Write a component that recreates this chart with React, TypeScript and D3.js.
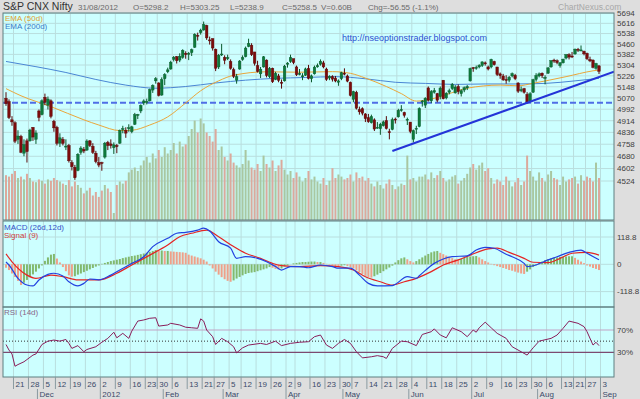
import * as d3 from "d3";

// ---- price data (daily, 16 Nov 2011 .. 31 Aug 2012) ----
const opens = [
  5068, 5045, 4920, 4900, 4790, 4810, 4700, 4780, 4780, 4870, 4790, 4980, 4955, 5075, 5020, 5050, 4910, 4870, 4765, 4790,
  4745, 4750, 4640, 4610, 4590, 4705, 4725, 4720, 4780, 4745, 4700, 4640, 4640, 4675, 4770, 4760, 4735, 4750, 4765, 4860,
  4850, 4860, 4840, 4890, 4950, 4980, 5035, 5045, 5050, 5125, 5190, 5175, 5090, 5205, 5255, 5275, 5345, 5365, 5340, 5360,
  5390, 5385, 5395, 5435, 5525, 5545, 5565, 5600, 5490, 5500, 5420, 5290, 5385, 5360, 5350, 5330, 5270, 5195, 5275, 5345,
  5365, 5440, 5450, 5400, 5300, 5240, 5290, 5340, 5220, 5280, 5200, 5225, 5180, 5190, 5310, 5330, 5350, 5290, 5240, 5220,
  5230, 5280, 5205, 5240, 5290, 5310, 5320, 5275, 5210, 5220, 5210, 5180, 5205, 5245, 5225, 5180, 5060, 5110, 4990, 4995,
  4960, 4935, 4900, 4920, 4865, 4860, 4880, 4915, 4840, 4855, 4925, 4940, 4990, 4970, 4920, 4905, 4790, 4860, 4875, 5045,
  5020, 5140, 5050, 5110, 5100, 5080, 5195, 5070, 5110, 5135, 5105, 5150, 5100, 5125, 5140, 5190, 5285, 5285, 5290, 5300,
  5320, 5290, 5290, 5330, 5290, 5240, 5225, 5200, 5195, 5225, 5230, 5175, 5125, 5135, 5095, 5050, 5110, 5200, 5225, 5245,
  5215, 5245, 5290, 5340, 5335, 5300, 5320, 5355, 5380, 5370, 5385, 5420, 5410, 5405, 5390, 5345, 5340, 5280, 5298,
];
const highs = [
  5110, 5060, 4945, 4910, 4850, 4820, 4790, 4795, 4860, 4870, 4850, 4990, 5060, 5100, 5080, 5060, 4920, 4880, 4830, 4805,
  4790, 4760, 4655, 4625, 4700, 4745, 4740, 4790, 4785, 4765, 4715, 4675, 4645, 4773, 4780, 4790, 4770, 4760, 4855, 4880,
  4870, 4890, 4880, 4967, 4960, 5025, 5060, 5065, 5135, 5165, 5217, 5180, 5215, 5245, 5285, 5335, 5370, 5370, 5390, 5420,
  5405, 5400, 5425, 5540, 5545, 5575, 5630, 5605, 5515, 5500, 5425, 5385, 5460, 5375, 5380, 5345, 5285, 5240, 5340, 5375,
  5440, 5499, 5465, 5400, 5335, 5290, 5370, 5345, 5290, 5285, 5255, 5240, 5200, 5305, 5325, 5380, 5350, 5300, 5275, 5245,
  5285, 5305, 5235, 5300, 5315, 5345, 5335, 5285, 5230, 5230, 5225, 5200, 5255, 5280, 5235, 5185, 5120, 5120, 5010, 5005,
  4965, 4960, 4955, 4930, 4905, 4900, 4915, 4945, 4860, 4935, 4935, 4995, 5020, 4975, 4935, 4905, 4855, 4880, 5005, 5055,
  5075, 5150, 5125, 5140, 5105, 5150, 5195, 5110, 5135, 5175, 5160, 5165, 5130, 5150, 5160, 5285, 5290, 5300, 5310, 5330,
  5330, 5300, 5350, 5335, 5290, 5250, 5240, 5230, 5225, 5250, 5240, 5180, 5150, 5140, 5110, 5110, 5205, 5245, 5250, 5250,
  5230, 5290, 5340, 5350, 5345, 5325, 5350, 5385, 5390, 5400, 5425, 5430, 5448, 5410, 5395, 5365, 5345, 5320, 5303,
];
const lows = [
  5015, 4925, 4880, 4765, 4760, 4700, 4680, 4640, 4775, 4780, 4760, 4910, 4950, 5020, 4990, 4930, 4840, 4750, 4740, 4750,
  4720, 4640, 4590, 4531, 4585, 4690, 4700, 4715, 4740, 4695, 4635, 4610, 4588, 4665, 4720, 4730, 4695, 4700, 4760, 4830,
  4800, 4840, 4830, 4885, 4925, 4965, 5020, 5025, 5045, 5105, 5170, 5080, 5085, 5160, 5245, 5270, 5330, 5315, 5325, 5350,
  5350, 5340, 5370, 5430, 5485, 5530, 5560, 5490, 5455, 5410, 5260, 5275, 5370, 5310, 5340, 5270, 5210, 5170, 5270, 5335,
  5360, 5435, 5370, 5300, 5250, 5210, 5285, 5215, 5210, 5175, 5195, 5180, 5135, 5185, 5285, 5320, 5310, 5225, 5230, 5195,
  5225, 5200, 5180, 5235, 5285, 5300, 5280, 5190, 5195, 5185, 5180, 5155, 5195, 5230, 5180, 5080, 5040, 4990, 4955, 4950,
  4905, 4900, 4895, 4845, 4860, 4820, 4875, 4855, 4790, 4850, 4895, 4935, 4975, 4935, 4885, 4830, 4770, 4825, 4870, 5010,
  5000, 5045, 5035, 5100, 5040, 5060, 5060, 5060, 5095, 5125, 5100, 5095, 5080, 5110, 5125, 5185, 5255, 5270, 5280, 5290,
  5300, 5265, 5280, 5300, 5225, 5205, 5190, 5170, 5180, 5215, 5195, 5105, 5110, 5100, 5032, 5045, 5105, 5185, 5215, 5210,
  5165, 5240, 5285, 5320, 5310, 5285, 5315, 5345, 5345, 5355, 5380, 5400, 5405, 5375, 5340, 5325, 5280, 5270, 5239,
];
const closes = [
  5030, 4935, 4906, 4778, 4812, 4706, 4756, 4710, 4851, 4805, 4832, 4936, 5050, 5039, 5062, 4943, 4866, 4764, 4800, 4763,
  4746, 4651, 4613, 4544, 4693, 4733, 4714, 4779, 4750, 4705, 4646, 4624, 4636, 4765, 4749, 4749, 4754, 4742, 4849, 4861,
  4831, 4867, 4873, 4955, 4956, 5018, 5049, 5046, 5128, 5158, 5205, 5087, 5199, 5235, 5269, 5325, 5361, 5335, 5368, 5412,
  5381, 5390, 5416, 5532, 5521, 5564, 5607, 5505, 5483, 5429, 5281, 5375, 5385, 5339, 5359, 5280, 5222, 5220, 5333, 5359,
  5429, 5463, 5380, 5317, 5257, 5274, 5364, 5228, 5278, 5184, 5243, 5194, 5178, 5296, 5318, 5358, 5322, 5234, 5243, 5226,
  5276, 5207, 5226, 5289, 5300, 5332, 5290, 5200, 5222, 5202, 5189, 5190, 5248, 5239, 5188, 5087, 5114, 4999, 4974, 4965,
  4928, 4907, 4942, 4858, 4870, 4891, 4906, 4861, 4835, 4921, 4920, 4985, 4990, 4950, 4924, 4842, 4848, 4863, 4997, 5049,
  5068, 5054, 5115, 5121, 5054, 5139, 5064, 5103, 5120, 5165, 5146, 5114, 5120, 5141, 5149, 5279, 5278, 5287, 5302, 5327,
  5316, 5275, 5345, 5306, 5235, 5227, 5197, 5193, 5216, 5242, 5205, 5117, 5128, 5109, 5043, 5099, 5199, 5229, 5240, 5227,
  5215, 5283, 5336, 5338, 5322, 5320, 5347, 5380, 5362, 5366, 5421, 5413, 5415, 5386, 5350, 5334, 5287, 5315, 5258,
];
// volume, billions
const volumes = [
  0.64, 0.62, 0.66, 0.7, 0.6, 0.62, 0.58, 0.66, 0.6, 0.55, 0.54, 0.58, 0.56, 0.52, 0.58, 0.56, 0.6, 0.57, 0.55, 0.52,
  0.5, 0.57, 0.48, 0.55, 0.5, 0.46, 0.38, 0.42, 0.46, 0.35, 0.4, 0.33, 0.42, 0.5, 0.45, 0.4, 0.1, 0.5, 0.55, 0.52,
  0.56, 0.68, 0.72, 0.75, 0.7, 0.78, 0.85, 0.9, 0.82, 0.95, 0.88, 1.0, 0.9, 1.04, 0.95, 1.0, 1.1, 0.95, 1.12, 1.05,
  1.08, 1.2, 1.3, 1.42, 1.25, 1.45, 1.38, 1.25, 1.2, 1.12, 1.3, 1.0, 1.05, 0.9, 0.85, 0.95, 0.82, 0.78, 0.75, 0.8,
  1.0, 0.85, 0.75, 0.72, 0.8, 0.7, 0.92, 0.8, 0.75, 0.85, 0.7, 0.78, 0.86, 0.72, 0.65, 0.7, 0.6, 0.68, 0.62, 0.55,
  0.6, 0.7, 0.58, 0.62, 0.55, 0.52, 0.6, 0.5, 0.56, 0.74, 0.6, 0.65, 0.62, 0.58, 0.6, 0.65, 0.55, 0.68, 0.6, 0.62,
  0.56, 0.6, 0.52, 0.48, 0.55, 0.5, 0.45, 0.52, 0.58, 0.5, 0.44, 0.48, 0.52, 0.5, 0.92, 0.58, 0.6, 0.55, 0.62, 0.62,
  0.65, 0.58, 0.68, 0.6, 0.64, 0.7, 0.6, 0.55, 0.58, 0.62, 0.64, 0.52, 0.56, 0.6, 0.66, 0.75, 0.8, 0.72, 0.78, 0.82,
  0.7, 0.74, 0.6, 0.52, 0.58, 0.55, 0.5, 0.62, 0.56, 0.48, 0.54, 0.6, 0.5, 0.55, 0.92, 0.7, 0.62, 0.56, 0.68, 0.6,
  0.55, 0.65, 0.7, 0.6, 0.58, 0.5, 0.62, 0.55, 0.58, 0.6, 0.62, 0.52, 0.64, 0.56, 0.62, 0.6, 0.55, 0.82, 0.6,
];

// moving averages: [day index, value]
const ema50 = [
  [0, 5135], [5, 5085], [15, 5010], [26, 4920], [31, 4885], [38, 4848], [42, 4850], [48, 4885], [54, 4940], [60, 5035],
  [65, 5120], [71, 5190], [76, 5230], [87, 5255], [98, 5252], [109, 5256], [115, 5244], [120, 5210], [127, 5150],
  [132, 5100], [137, 5048], [143, 5067], [148, 5100], [154, 5138], [165, 5160], [171, 5155], [176, 5173], [187, 5220],
  [196, 5262], [198, 5268],
];
const ema200 = [
  [0, 5330], [10, 5292], [20, 5250], [30, 5200], [40, 5160], [50, 5138], [60, 5150], [70, 5175], [80, 5195], [90, 5208],
  [100, 5214], [110, 5220], [120, 5205], [130, 5180], [140, 5172], [150, 5165], [160, 5168], [170, 5168], [180, 5172],
  [190, 5190], [198, 5208],
];
const trendLine = [[129, 4714], [203, 5256]];
const supportLevel = 5037;

// MACD panel
const macdLine = [
  [0, 10], [1, -3], [4, -61], [7, -90], [9, -94], [11, -68], [14, -44], [16, -39], [19, -51], [21, -76], [24, -94],
  [26, -83], [28, -64], [31, -68], [35, -47], [38, -25], [42, 4], [46, 33], [49, 77], [54, 113], [57, 135], [60, 139],
  [64, 149], [66, 157], [68, 145], [71, 98], [75, 70], [77, 26], [80, 33], [84, 26], [87, 11], [90, -10], [92, -25],
  [95, -10], [98, -10], [101, -15], [105, -3], [109, -10], [111, -17], [115, -17], [118, -47], [121, -83], [124, -94],
  [129, -93], [130, -87], [134, -54], [137, -61], [138, -50], [143, 4], [146, 23], [149, 33], [154, 37], [157, 62],
  [160, 74], [163, 70], [167, 44], [169, 33], [173, 4], [174, -10], [177, -3], [181, 19], [184, 33], [188, 52],
  [192, 62], [194, 48], [198, 20],
];
const signalLine = [
  [0, 45], [2, 11], [7, -47], [10, -61], [15, -47], [19, -54], [24, -68], [28, -68], [31, -68], [37, -39], [42, -3],
  [48, 40], [54, 84], [58, 120], [62, 135], [67, 149], [71, 120], [76, 77], [80, 48], [85, 26], [89, 4], [92, -6],
  [98, -10], [105, -6], [111, -10], [116, -25], [120, -54], [125, -76], [129, -90], [133, -76], [137, -61], [142, -32],
  [146, -3], [151, 19], [155, 40], [161, 67], [164, 70], [168, 52], [173, 26], [176, 9], [181, 7], [185, 26],
  [189, 48], [194, 52], [198, 40],
];
const macdHist = [
  -15, -25, -40, -55, -72, -90, -80, -68, -56, -44, -32, -18, -5, 15, 30, 42, 45, 25, 8, -12,
  -30, -48, -54, -52, -45, -40, -34, -28, -22, -16, -10, -5, 2, 6, 10, 14, 17, 20, 23, 27,
  30, 33, 36, 38, 41, 44, 47, 50, 54, 58, 62, 60, 60, 58, 58, 56, 55, 54, 53, 52,
  50, 42, 38, 34, 30, 26, 20, 12, -5, -18, -32, -45, -56, -65, -72, -76, -70, -62, -55, -48,
  -42, -38, -36, -34, -30, -26, -22, -18, -12, -15, -20, -22, -18, -10, -5, 0, 4, 6, 8, 10,
  10, 11, 12, 12, 10, 10, 6, 2, -2, -6, -8, -10, -6, -4, -8, -12, -18, -26, -34, -42,
  -50, -55, -58, -52, -45, -38, -30, -22, -14, -6, 8, 18, 26, 30, 22, 14, 8, 14, 22, 30,
  38, 45, 52, 56, 58, 50, 44, 38, 32, 27, 22, 20, 24, 28, 32, 34, 35, 36, 30, 22,
  14, 8, 2, -4, -8, -12, -16, -20, -25, -28, -32, -36, -40, -42, -32, -22, -12, -4, 6, 12,
  18, 22, 26, 28, 30, 32, 33, 34, 35, 35, 28, 20, 12, 5, -5, -10, -16, -20, -25,
];

// RSI (14d): [day index, value]
const rsiLine = [
  [0, 44], [1, 34], [2, 27], [3, 5], [4, 8], [6, 13], [7, 17], [9, 25], [10, 27], [12, 44], [14, 50], [16, 52],
  [18, 50], [20, 53], [21, 46], [22, 37], [24, 42], [26, 31], [27, 35], [30, 40], [32, 48], [34, 55], [36, 66],
  [37, 56], [39, 64], [41, 55], [42, 68], [44, 86], [46, 88], [48, 91], [50, 92], [51, 77], [54, 79], [55, 82],
  [58, 79], [60, 75], [62, 74], [64, 73], [65, 90], [66, 86], [67, 70], [69, 58], [70, 44], [72, 55], [74, 49],
  [76, 40], [77, 29], [79, 38], [81, 43], [85, 46], [87, 44], [90, 50], [92, 42], [95, 46], [98, 48], [101, 49],
  [103, 58], [105, 61], [107, 43], [109, 37], [111, 46], [113, 53], [115, 46], [117, 31], [119, 20], [122, 22],
  [124, 24], [126, 22], [127, 19], [129, 37], [132, 50], [134, 49], [137, 42], [139, 62], [142, 67], [143, 72],
  [145, 61], [147, 56], [149, 74], [152, 67], [154, 58], [156, 70], [157, 66], [158, 74], [160, 84], [162, 74],
  [164, 64], [167, 55], [169, 40], [172, 31], [174, 25], [176, 38], [178, 50], [182, 55], [184, 61], [186, 73],
  [188, 86], [191, 82], [193, 76], [194, 67], [196, 43], [197, 48], [198, 42],
];

// axis labels
const priceTicks = [5694, 5616, 5538, 5460, 5382, 5304, 5226, 5148, 5070, 4992, 4914, 4836, 4758, 4680, 4602, 4524];
const macdTicks = [118.8, 0, -118.8];
const rsiTicks = [70, 30];
const weekTicks: [string, number][] = [
  ["21", 3], ["28", 8], ["5", 13], ["12", 17], ["19", 22], ["26", 27], ["2", 32], ["9", 37], ["16", 42], ["23", 47],
  ["30", 51], ["6", 56], ["13", 61], ["21", 66], ["27", 70], ["5", 75], ["12", 79], ["19", 84], ["26", 89], ["2", 94],
  ["9", 97], ["16", 102], ["23", 107], ["30", 112], ["7", 116], ["14", 121], ["21", 126], ["28", 131], ["4", 136],
  ["11", 141], ["18", 146], ["25", 151], ["2", 156], ["9", 161], ["16", 166], ["23", 171], ["30", 176], ["6", 181],
  ["13", 186], ["21", 190], ["27", 194], ["3", 199],
];
const monthTicks: [string, number][] = [
  ["Dec", 11], ["2012", 32], ["Feb", 53], ["Mar", 73], ["Apr", 94], ["May", 113], ["Jun", 135], ["Jul", 156],
  ["Aug", 178], ["Sep", 199],
];
const headerItems: [string, number][] = [
  ["31/08/2012", 78], ["O=5298.2", 133], ["H=5303.25", 180], ["L=5238.9", 230], ["C=5258.5", 282],
  ["V=0.60B", 321], ["Chg=-56.55 (-1.1%)", 368],
];

const FONT = "'Liberation Sans', Arial, sans-serif";
const L = 3, R = 614;
const BG = "#ccffff";
const GRID = "#b9dede";
const BORDER = "#5f7f80";

export default function App() {
  const x = d3.scaleLinear().domain([0, 198]).range([6, 599]);
  const yPrice = d3.scaleLog().domain([4524, 5694]).range([181, 13.3]);
  const yVol = d3.scaleLinear().domain([0, 1.6]).range([220, 108]);
  const yMacd = d3.scaleLinear().domain([-118.8, 118.8]).range([291.6, 237]);
  const yRsi = d3.scaleLinear().domain([30, 70]).range([352.3, 330]);

  const tickX = (i: number) => x(i) - 1.5;

  const smooth = (yS: any) =>
    d3.line<number[]>().x((d) => x(d[0])).y((d) => yS(d[1])).curve(d3.curveMonotoneX);
  const priceLine = smooth(yPrice);
  const macdPath = smooth(yMacd);
  const rsiPath = d3.line<number[]>().x((d) => x(d[0])).y((d) => yRsi(d[1]));

  const panels = [
    { id: "pMain", y0: 13, y1: 220 },
    { id: "pMacd", y0: 221, y1: 307 },
    { id: "pRsi", y0: 307, y1: 377 },
  ];

  return (
    <svg width={640} height={399} style={{ position: "absolute", left: 0, top: 0, display: "block" }} fontFamily={FONT}>
      <defs>
        {panels.map((p) => (
          <clipPath key={p.id} id={p.id}>
            <rect x={L} y={p.y0} width={R - L} height={p.y1 - p.y0} />
          </clipPath>
        ))}
      </defs>
      <rect width={640} height={399} fill="#dedede" />

      {/* header */}
      <text x={3} y={10} fontSize={10.5} fill="#333">S&amp;P CNX Nifty</text>
      {headerItems.map(([t, hx]) => (
        <text key={t} x={hx} y={10} fontSize={8} fill="#6a6a6a">{t}</text>
      ))}
      <text x={558} y={10} fontSize={8.5} fill="#a8a8a8">ChartNexus.com</text>

      {/* panel backgrounds + grids */}
      {panels.map((p) => (
        <g key={p.id}>
          <rect x={L} y={p.y0} width={R - L} height={p.y1 - p.y0} fill={BG} />
          {weekTicks.map(([, i], k) =>
            tickX(i) < R ? (
              <line key={k} x1={tickX(i)} x2={tickX(i)} y1={p.y0} y2={p.y1} stroke={GRID} strokeWidth={1} />
            ) : null
          )}
        </g>
      ))}
      {priceTicks.map((t) => (
        <line key={t} x1={L} x2={R} y1={yPrice(t)} y2={yPrice(t)} stroke={GRID} />
      ))}
      {macdTicks.map((t) => (
        <line key={t} x1={L} x2={R} y1={yMacd(t)} y2={yMacd(t)} stroke={GRID} />
      ))}

      {/* main panel */}
      <g clipPath="url(#pMain)">
        {volumes.map((v, i) => (
          <rect
            key={i}
            x={x(i) - 1}
            y={yVol(v)}
            width={2}
            height={220 - yVol(v)}
            fill={closes[i] >= opens[i] ? "#a9c7a1" : "#dba99c"}
          />
        ))}
        <line
          x1={L}
          x2={R}
          y1={yPrice(supportLevel)}
          y2={yPrice(supportLevel)}
          stroke="#4f6ee6"
          strokeWidth={2}
          strokeDasharray="6,3"
        />
        <path d={priceLine(ema200) ?? ""} fill="none" stroke="#4a86d4" strokeWidth={1} />
        <path d={priceLine(ema50) ?? ""} fill="none" stroke="#eaa63a" strokeWidth={1} />
        {closes.map((c, i) => {
          const up = c >= opens[i];
          const top = yPrice(Math.max(opens[i], c));
          const bot = yPrice(Math.min(opens[i], c));
          const col = up ? "#0d7a3c" : "#7c0c0c";
          const edge = up ? "#0a5a2c" : "#5a0808";
          return (
            <g key={i}>
              <line x1={x(i)} x2={x(i)} y1={yPrice(highs[i])} y2={yPrice(lows[i])} stroke={edge} strokeWidth={1} />
              <rect x={x(i) - 1.3} y={top} width={2.6} height={Math.max(bot - top, 1)} fill={col} stroke={edge} strokeWidth={0.4} />
            </g>
          );
        })}
        <line
          x1={x(trendLine[0][0])}
          y1={yPrice(trendLine[0][1])}
          x2={x(trendLine[1][0])}
          y2={yPrice(trendLine[1][1])}
          stroke="#2434d8"
          strokeWidth={2}
        />
        <text x={342} y={41} fontSize={9} fill="#2e4fd0">http://nseoptionstrader.blogspot.com</text>
        <text x={5} y={21} fontSize={8} fill="#e0a030">EMA (50d)</text>
        <text x={5} y={29} fontSize={8} fill="#3a78c8">EMA (200d)</text>
      </g>

      {/* MACD panel */}
      <g clipPath="url(#pMacd)">
        {macdHist.map((h, i) => {
          const rising = i === 0 ? h >= 0 : h >= macdHist[i - 1];
          const y0 = yMacd(0);
          const yv = yMacd(h);
          return (
            <rect
              key={i}
              x={x(i) - 1}
              y={Math.min(y0, yv)}
              width={2}
              height={Math.abs(yv - y0)}
              fill={rising ? "#82b96e" : "#efa088"}
            />
          );
        })}
        <path d={macdPath(signalLine) ?? ""} fill="none" stroke="#e52424" strokeWidth={1.2} />
        <path d={macdPath(macdLine) ?? ""} fill="none" stroke="#2342e0" strokeWidth={1.2} />
        <text x={4} y={230} fontSize={8} fill="#3550c8">MACD (26d,12d)</text>
        <text x={4} y={238} fontSize={8} fill="#d04040">Signal (9)</text>
      </g>

      {/* RSI panel */}
      <g clipPath="url(#pRsi)">
        <line x1={L} x2={R} y1={yRsi(70)} y2={yRsi(70)} stroke="#c2a3c6" strokeWidth={1.2} />
        <line x1={L} x2={R} y1={yRsi(30)} y2={yRsi(30)} stroke="#7c4a70" strokeWidth={1.2} />
        <line x1={L} x2={R} y1={yRsi(50)} y2={yRsi(50)} stroke="#333" strokeWidth={1} strokeDasharray="1,2" />
        <path d={rsiPath(rsiLine) ?? ""} fill="none" stroke="#8a1e5a" strokeWidth={1} />
        <text x={4} y={315} fontSize={8} fill="#886688">RSI (14d)</text>
      </g>

      {/* panel borders */}
      {panels.map((p) => (
        <rect key={p.id} x={L} y={p.y0} width={R - L} height={p.y1 - p.y0} fill="none" stroke={BORDER} strokeWidth={1} />
      ))}

      {/* right axis labels */}
      {priceTicks.map((t) => (
        <text key={t} x={617} y={yPrice(t)} dy="0.35em" fontSize={8} fill="#404040">{t}</text>
      ))}
      {macdTicks.map((t) => (
        <text key={t} x={617} y={yMacd(t)} dy="0.35em" fontSize={8} fill="#404040">{t === 0 ? "0" : t}</text>
      ))}
      {rsiTicks.map((t) => (
        <text key={t} x={617} y={yRsi(t)} dy="0.35em" fontSize={8} fill="#404040">{t}%</text>
      ))}

      {/* x axis */}
      {weekTicks.map(([lab, i], k) => (
        <g key={k}>
          <line x1={tickX(i)} x2={tickX(i)} y1={377} y2={389} stroke="#8a9aa0" />
          <text x={tickX(i) + 2} y={387} fontSize={8} fill="#3a4a6a">{lab}</text>
        </g>
      ))}
      {monthTicks.map(([lab, i]) => (
        <g key={lab}>
          <line x1={tickX(i)} x2={tickX(i)} y1={389} y2={399} stroke="#8a9aa0" />
          <text x={tickX(i) + 2} y={397} fontSize={8} fill="#3a4a6a">{lab}</text>
        </g>
      ))}
    </svg>
  );
}
